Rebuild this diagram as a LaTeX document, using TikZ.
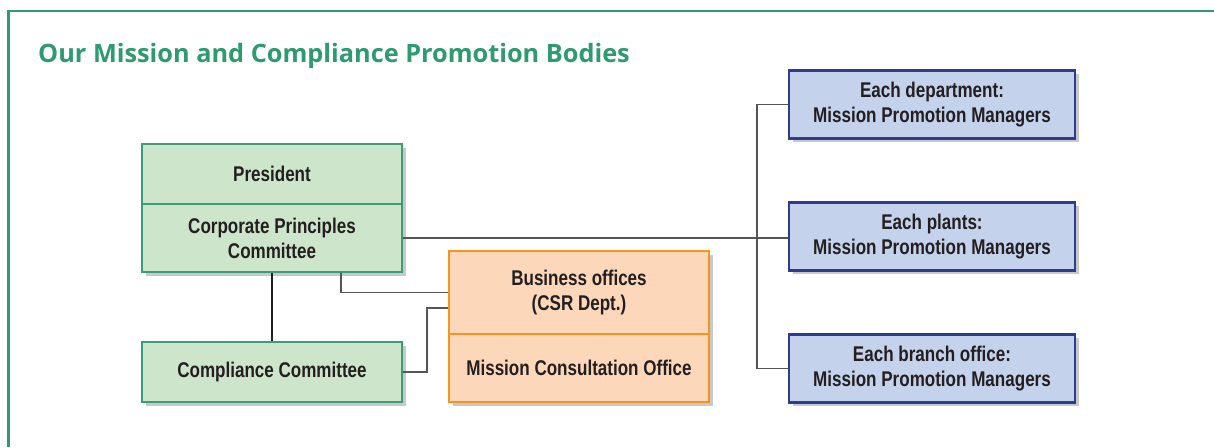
\documentclass[tikz,border=0pt]{standalone}
\usepackage{fontspec}
\setmainfont{Liberation Sans}
\newfontfamily\boxfont[FakeStretch=0.8]{Liberation Sans}
\newfontfamily\titlefont{Open Sans}
\usetikzlibrary{shadows}
\definecolor{frameG}{HTML}{2E9A72}
\definecolor{gfill}{HTML}{CDE6CB}
\definecolor{gline}{HTML}{3A9D78}
\definecolor{ofill}{HTML}{FCD7B9}
\definecolor{oline}{HTML}{F7941E}
\definecolor{bfill}{HTML}{C4D2EC}
\definecolor{bline}{HTML}{2E3B8E}
\definecolor{txt}{HTML}{231F20}
\definecolor{conn}{HTML}{555555}
\tikzset{
  boxbase/.style={rectangle, align=center, text=txt, inner sep=2pt,
    font=\boxfont\bfseries\fontsize{21.3}{25}\selectfont,
    drop shadow={shadow xshift=3.5pt, shadow yshift=-3.5pt, opacity=0.3, fill=black!70}},
  gbox/.style={boxbase, fill=gfill, draw=gline, line width=2pt, minimum width=260pt},
  obox/.style={boxbase, fill=ofill, draw=oline, line width=2pt, minimum width=260pt},
  bbox/.style={boxbase, fill=bfill, draw=bline, line width=2.4pt, minimum width=286pt, minimum height=68pt},
  thinconn/.style={draw=conn, line width=1.3pt},
  thickconn/.style={draw=txt, line width=2.2pt}
}
\begin{document}
\begin{tikzpicture}[x=1pt,y=-1pt]
\useasboundingbox (0,0) rectangle (1214,447);
\fill[white] (0,0) rectangle (1214,447);
\draw[frameG, line width=2.5pt] (8.5,447) -- (8.5,11) -- (1214,11);
\node[anchor=base west, text=frameG, inner sep=0pt, font=\titlefont\bfseries\fontsize{25.3}{30}\selectfont] (title) at (38,62) {Our Mission and Compliance Promotion Bodies};

% left green boxes
\node[gbox, minimum height=60pt] (pres) at (272,174) {President};
\node[gbox, minimum height=68pt] (cpc) at (272,238) {Corporate Principles\\Committee};
\node[gbox, minimum height=60pt] (comp) at (272,372) {Compliance Committee};

% orange boxes
\node[obox, minimum height=83pt] (bus) at (579,292.5) {Business offices\\(CSR Dept.)};
\node[obox, minimum height=68pt] (mco) at (579,368) {Mission Consultation Office};

% blue boxes
\node[bbox] (dept) at (932,104.5) {Each department:\\Mission Promotion Managers};
\node[bbox] (plant) at (932,236.5) {Each plants:\\Mission Promotion Managers};
\node[bbox] (branch) at (932,368.5) {Each branch office:\\Mission Promotion Managers};

\coordinate (trunk) at (757,0);

% connectors
\draw[thickconn] (cpc.south) -- (comp.north);
\draw[thinconn] (cpc.east) -- (cpc.east -| plant.west);
\draw[thinconn] (dept.west) -- (dept.west -| trunk) -- (branch.west -| trunk) -- (branch.west);
\draw[thinconn] ([xshift=69pt]cpc.south) |- (bus.west);
\draw[thinconn] (comp.east) -- ++(24,0) |- ([yshift=-15.5pt]bus.west);
\end{tikzpicture}
\end{document}
